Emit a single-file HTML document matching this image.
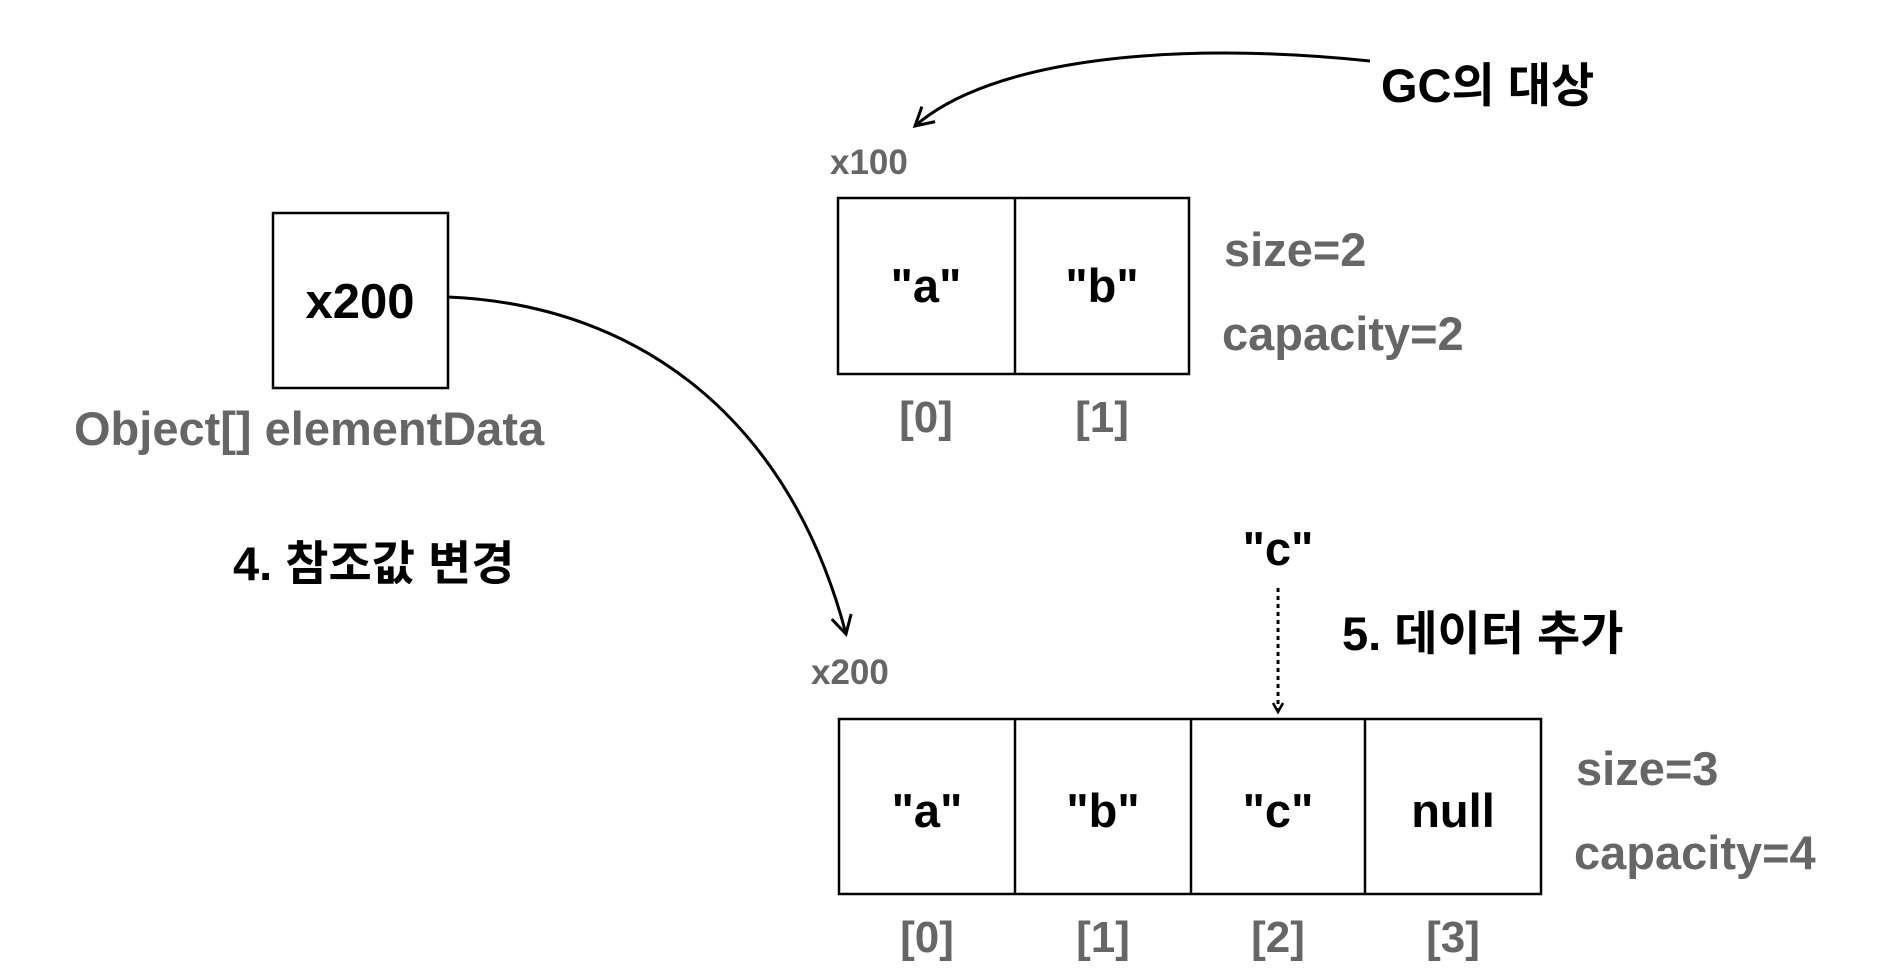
<!DOCTYPE html>
<html><head><meta charset="utf-8"><style>
html,body{margin:0;padding:0;background:#fff;}
svg{display:block;}
text{font-family:"Liberation Sans","Noto Sans CJK KR",sans-serif;font-weight:bold;}
</style></head><body>
<svg width="1902" height="978" viewBox="0 0 1902 978" xmlns="http://www.w3.org/2000/svg">
<defs>
<marker id="ah" viewBox="0 0 12 12" refX="10" refY="6" markerWidth="12" markerHeight="12" markerUnits="userSpaceOnUse" orient="auto">
<path d="M1,1 L10,6 L1,11" fill="none" stroke="#000" stroke-width="2.5"/>
</marker>
<marker id="ah2" viewBox="0 0 24 24" refX="20" refY="12" markerWidth="24" markerHeight="24" markerUnits="userSpaceOnUse" orient="auto">
<path d="M2,2 L20,12 L2,22" fill="none" stroke="#000" stroke-width="3"/>
</marker>
</defs>

<!-- reference box -->
<rect x="273" y="213" width="175" height="175" fill="#fff" stroke="#000" stroke-width="2.5"/>
<text x="360" y="318" font-size="49" text-anchor="middle" fill="#000">x200</text>
<text x="74" y="445" font-size="47" fill="#666">Object[] elementData</text>
<text x="233" y="580" font-size="47" fill="#000">4. 참조값 변경</text>

<!-- curve -->
<path d="M448,297 C640,305 790,420 846,634" fill="none" stroke="#000" stroke-width="3" marker-end="url(#ah2)"/>

<!-- GC arrow -->
<path d="M1370,61 C1170,40 990,60 915,126" fill="none" stroke="#000" stroke-width="3" marker-end="url(#ah2)"/>
<text x="1381" y="102" font-size="47" fill="#000">GC의 대상</text>

<!-- top array -->
<text x="830" y="174" font-size="35" fill="#666">x100</text>
<rect x="838" y="198" width="351" height="176" fill="#fff" stroke="#000" stroke-width="2.5"/>
<line x1="1015" y1="198" x2="1015" y2="374" stroke="#000" stroke-width="2.5"/>
<text x="926" y="302" font-size="47" text-anchor="middle" fill="#000">"a"</text>
<text x="1102" y="302" font-size="47" text-anchor="middle" fill="#000">"b"</text>
<text x="926" y="432" font-size="44" text-anchor="middle" fill="#666">[0]</text>
<text x="1102" y="432" font-size="44" text-anchor="middle" fill="#666">[1]</text>
<text x="1224" y="266" font-size="47" fill="#666">size=2</text>
<text x="1222" y="350" font-size="47" fill="#666">capacity=2</text>

<!-- c dotted -->
<text x="1278" y="565" font-size="47" text-anchor="middle" fill="#000">"c"</text>
<line x1="1278" y1="588" x2="1278" y2="712" stroke="#000" stroke-width="3" stroke-dasharray="4,4" marker-end="url(#ah)"/>
<text x="1342" y="650" font-size="47" fill="#000">5. 데이터 추가</text>

<!-- bottom array -->
<text x="811" y="684" font-size="35" fill="#666">x200</text>
<rect x="839" y="719" width="702" height="175" fill="#fff" stroke="#000" stroke-width="2.5"/>
<line x1="1015" y1="719" x2="1015" y2="894" stroke="#000" stroke-width="2.5"/>
<line x1="1191" y1="719" x2="1191" y2="894" stroke="#000" stroke-width="2.5"/>
<line x1="1365" y1="719" x2="1365" y2="894" stroke="#000" stroke-width="2.5"/>
<text x="927" y="827" font-size="47" text-anchor="middle" fill="#000">"a"</text>
<text x="1103" y="827" font-size="47" text-anchor="middle" fill="#000">"b"</text>
<text x="1278" y="827" font-size="47" text-anchor="middle" fill="#000">"c"</text>
<text x="1453" y="827" font-size="47" text-anchor="middle" fill="#000">null</text>
<text x="927" y="952" font-size="44" text-anchor="middle" fill="#666">[0]</text>
<text x="1103" y="952" font-size="44" text-anchor="middle" fill="#666">[1]</text>
<text x="1278" y="952" font-size="44" text-anchor="middle" fill="#666">[2]</text>
<text x="1453" y="952" font-size="44" text-anchor="middle" fill="#666">[3]</text>
<text x="1576" y="785" font-size="47" fill="#666">size=3</text>
<text x="1574" y="869" font-size="47" fill="#666">capacity=4</text>
</svg>
</body></html>
